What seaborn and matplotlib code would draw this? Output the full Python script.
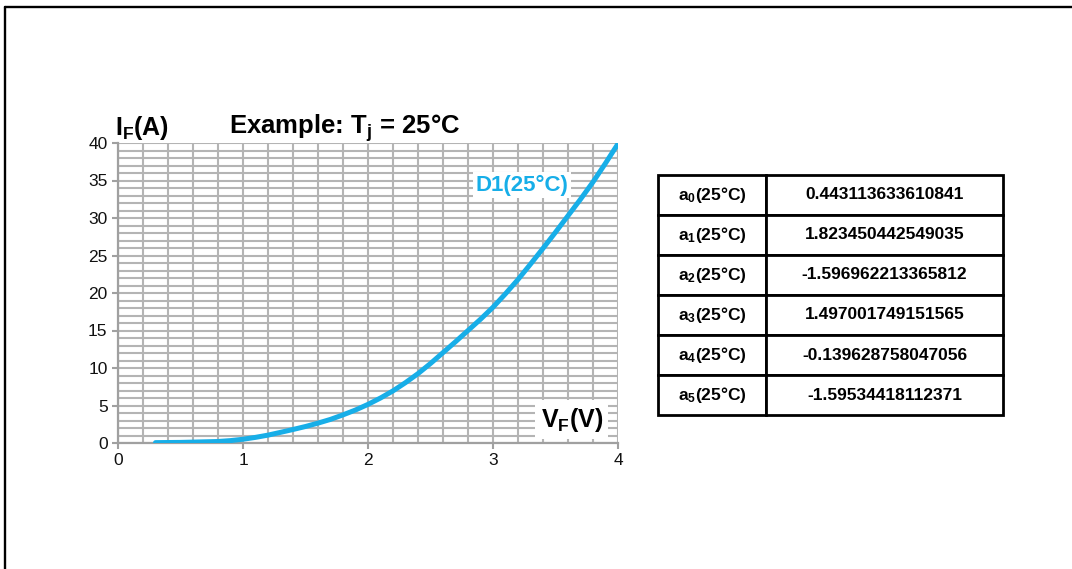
import matplotlib
matplotlib.use("Agg")
import matplotlib.pyplot as plt
from matplotlib.ticker import MultipleLocator
from matplotlib.lines import Line2D
import seaborn as sns
import pandas as pd

# ---- data ----
vf_volts = [0.3, 0.5, 0.8, 0.9, 1.0, 1.1, 1.2, 1.3, 1.4, 1.5, 1.6, 1.7, 1.8, 1.9, 2.0,
            2.1, 2.2, 2.3, 2.4, 2.5, 2.6, 2.7, 2.8, 2.9, 3.0, 3.1, 3.2, 3.3, 3.4, 3.5,
            3.6, 3.7, 3.8, 3.9, 4.0]
if_amps = [0.05, 0.08, 0.2, 0.32, 0.5, 0.75, 1.05, 1.42, 1.8, 2.2, 2.65, 3.15, 3.75, 4.4, 5.15,
           6.0, 6.95, 8.05, 9.25, 10.6, 12.05, 13.5, 15.0, 16.5, 18.1, 19.9, 21.8, 23.85, 25.95, 28.1,
           30.3, 32.5, 34.8, 37.3, 39.9]
x_ticks = [0, 1, 2, 3, 4]
y_ticks = [0, 5, 10, 15, 20, 25, 30, 35, 40]
coef_names = [r"a$_\mathbf{0}$(25°C)", r"a$_\mathbf{1}$(25°C)", r"a$_\mathbf{2}$(25°C)",
              r"a$_\mathbf{3}$(25°C)", r"a$_\mathbf{4}$(25°C)", r"a$_\mathbf{5}$(25°C)"]
coef_values = ["0.443113633610841", "1.823450442549035", "-1.596962213365812",
               "1.497001749151565", "-0.139628758047056", "-1.59534418112371"]
series_label = "D1(25°C)"

sns.set_theme(style="white")
plt.rcParams["font.family"] = ["Liberation Sans", "DejaVu Sans"]
plt.rcParams["text.color"] = "black"
plt.rcParams["mathtext.fontset"] = "custom"
plt.rcParams["mathtext.rm"] = "Liberation Sans"
plt.rcParams["mathtext.it"] = "Liberation Sans:italic"
plt.rcParams["mathtext.bf"] = "Liberation Sans:bold"

W, H = 1072, 569
fig = plt.figure(figsize=(W / 100, H / 100), dpi=100)
fig.patch.set_facecolor("white")

# outer frame (top and left lines)
fig.add_artist(Line2D([4.5 / W, 1.0], [1 - 6.5 / H, 1 - 6.5 / H], transform=fig.transFigure,
                      color="black", lw=1.7))
fig.add_artist(Line2D([4.5 / W, 4.5 / W], [0, 1 - 6.5 / H], transform=fig.transFigure,
                      color="black", lw=1.7))

# ---- chart ----
ax = fig.add_axes([118 / W, 1 - 443 / H, 500 / W, 300 / H])
df = pd.DataFrame({"VF": vf_volts, "IF": if_amps})
sns.lineplot(data=df, x="VF", y="IF", ax=ax, color="#17aee8", lw=3.6, zorder=5)
ax.set_xlim(0, 4)
ax.set_ylim(0, 40)
ax.set_xticks(x_ticks)
ax.set_yticks(y_ticks)
ax.xaxis.set_minor_locator(MultipleLocator(0.2))
ax.yaxis.set_minor_locator(MultipleLocator(1))
gridc = "#b4b4b4"
ax.grid(which="both", color=gridc, lw=1.5)
ax.set_axisbelow(True)
ax.set_xlabel("")
ax.set_ylabel("")
for s in ["top", "right"]:
    ax.spines[s].set_visible(False)
for s in ["left", "bottom"]:
    ax.spines[s].set_color("#a0a0a0")
    ax.spines[s].set_linewidth(1.6)
ax.tick_params(which="major", direction="out", length=4, width=1.5, color="#a0a0a0",
               labelsize=12.5, labelcolor="#111111", pad=3.5, left=True, bottom=True)
ax.tick_params(which="minor", length=0)

ax.text(3.23, 34.4, series_label, color="#17aee8", fontsize=16, fontweight="bold",
        ha="center", va="center", zorder=6,
        bbox=dict(facecolor="white", edgecolor="none", pad=2))
ax.text(3.63, 3.1, r"V$_\mathbf{F}$(V)", color="black", fontsize=18, fontweight="bold",
        ha="center", va="center", zorder=6,
        bbox=dict(facecolor="white", edgecolor="none", pad=4))
fig.text(115 / W, 1 - 128 / H, r"I$_\mathbf{F}$(A)", fontsize=18, fontweight="bold",
         ha="left", va="center")
fig.text(229 / W, 1 - 128 / H, r"Example: T$_\mathbf{j}$ = 25°C", fontsize=18.5,
         fontweight="bold", ha="left", va="center")

# ---- coefficient table ----
tax = fig.add_axes([658 / W, 1 - 415 / H, 345 / W, 240 / H])
tax.axis("off")
cells = [[n, v] for n, v in zip(coef_names, coef_values)]
tbl = tax.table(cellText=cells, bbox=[0, 0, 1, 1], colWidths=[108 / 345, 237 / 345],
                cellLoc="center")
tbl.auto_set_font_size(False)
for (r, c), cell in tbl.get_celld().items():
    cell.set_linewidth(2.0)
    cell.set_edgecolor("black")
    cell.get_text().set_fontsize(12.5)
    cell.get_text().set_fontweight("bold")
    cell.get_text().set_color("black")

fig.savefig("out.png", dpi=100, facecolor="white")
